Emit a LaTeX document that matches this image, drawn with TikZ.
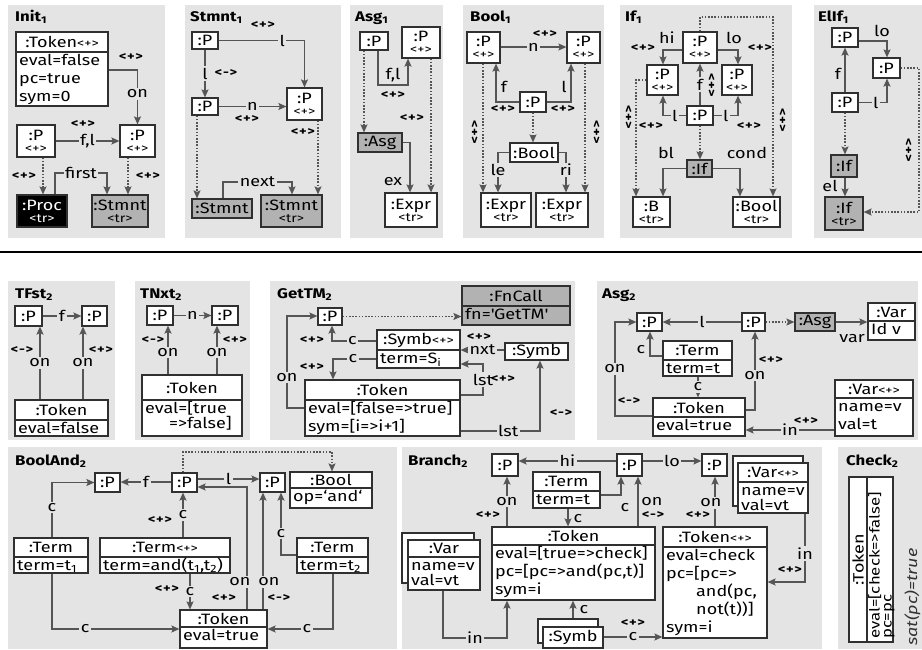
\documentclass[tikz,border=0pt]{standalone}
\usepackage{fontspec}
\setmainfont{Fira Sans}[FakeStretch=1.2]
\usetikzlibrary{arrows.meta,fit}
\definecolor{pbg}{HTML}{E4E4E4}
\definecolor{edg}{HTML}{555555}
\definecolor{bord}{HTML}{303030}
\definecolor{gnode}{HTML}{B2B2B2}
\newcommand\nf{\fontsize{15}{18}\selectfont}
\newcommand\stt[1]{{\fontsize{12}{12}\selectfont #1}}
\newcommand\pls{<\kern0.6pt+\kern0.6pt>}
\newcommand\mns{<\kern0.6pt-\kern0.6pt>}
\newcommand\cbox[9]{%
  \node[#7,fit={(#2,#3)(#4,#5)}] (#1) {};
  \draw[bline] (#2,#6) -- (#4,#6);
  \node[font=\nf,inner sep=0pt] at ({(#2+#4)/2},{(#3+#6)/2}) {#8};
  \node[font=\nf,inner sep=0pt,anchor=north west,align=left] at ({#2+3},#6) {\rule{0pt}{13.5pt}#9};
}
\newcommand\pbox[7]{\node[#6,minimum width={#4-#2},minimum height={#5-#3},align=center,font=\nf] (#1) at ({(#2+#4)/2},{(#3+#5)/2}) {#7};}
\tikzset{
  box/.style={draw=bord,line width=1.2pt,fill=white,inner sep=0pt},
  gbox/.style={box,fill=gnode},
  bbox/.style={box,fill=black,text=white},
  bline/.style={draw=bord,line width=1.2pt},
  arr/.style={draw=edg,line width=1.4pt,-{Stealth[length=8pt,width=7pt,inset=1.5pt]}},
  darr/.style={arr,dash pattern=on 1.6pt off 1.6pt},
  elab/.style={fill=pbg,inner sep=1.5pt,font=\nf},
  plab/.style={inner sep=1pt,font=\nf},
  ster/.style={inner sep=0pt,font=\bfseries\fontsize{12}{13}\selectfont},
  vster/.style={ster,rotate=-90},
  ttl/.style={anchor=base west,inner sep=0pt,font=\bfseries\fontsize{14}{16}\selectfont},
}
\begin{document}
\begin{tikzpicture}[x=1pt,y=-1pt]
\useasboundingbox (0,0) rectangle (922,649);
\fill[white] (0,0) rectangle (922,649);
% panels
\fill[pbg] (8,5) rectangle (165,238);
\fill[pbg] (185,5) rectangle (341,238);
\fill[pbg] (350,5) rectangle (443,238);
\fill[pbg] (463,5) rectangle (604,238);
\fill[pbg] (620,5) rectangle (792,238);
\fill[pbg] (814,5) rectangle (922,238);
\draw[line width=1.5pt] (0,252) -- (922,252);
\fill[pbg] (8,281) rectangle (115,440);
\fill[pbg] (135,281) rectangle (250,440);
\fill[pbg] (270,281) rectangle (575,440);
\fill[pbg] (597,281) rectangle (918,440);
\fill[pbg] (8,447) rectangle (397,649);
\fill[pbg] (402,447) rectangle (822,649);
\fill[pbg] (838,447) rectangle (922,649);

% ---------- Init1
\node[ttl] (ti1) at (15,21) {Init\textsubscript{1}};
\cbox{itok}{16}{32}{108}{106}{52}{box}{:Token\stt{<+>}}{eval=false\\pc=true\\sym=0}
\pbox{ip1}{17}{125}{55}{157}{box}{:P\\[-6pt]\stt{<+>}}
\pbox{ip2}{120}{125}{155}{157}{box}{:P\\[-6pt]\stt{<+>}}
\pbox{iproc}{17}{195}{67}{227}{bbox}{:Proc\\[-6pt]\stt{<tr>}}
\pbox{istm}{92}{195}{148}{227}{gbox}{:Stmnt\\[-6pt]\stt{<tr>}}
\draw[arr] (itok.east |- 0,70) -| node[elab,pos=0.72]{on} (ip2.north);
\node[ster] at (131,57) {\pls};
\draw[arr] (ip1) -- node[elab]{f,l} (ip2);
\node[ster] at (83,124) {\pls};
\draw[darr] (ip1.south -| 43,0) -- (iproc.north -| 43,0);
\draw[darr] (ip2.south -| 128,0) -- (istm.north -| 128,0);
\node[ster] at (24,176) {\pls};
\node[ster] at (148,176) {\pls};
\draw[arr] (iproc.north -| 55,0) -- (55,173) -- node[elab]{first} (107,173) -- (istm.north -| 107,0);

% ---------- Stmnt1
\node[ttl] (ti2) at (190,21) {Stmnt\textsubscript{1}};
\pbox{sp1}{192}{32}{218}{49}{box}{:P}
\pbox{sp2}{192}{98}{218}{115}{box}{:P}
\pbox{sp3}{287}{88}{322}{120}{box}{:P\\[-6pt]\stt{<+>}}
\pbox{ss1}{192}{199}{252}{218}{gbox}{:Stmnt}
\pbox{ss2}{261}{195}{322}{227}{gbox}{:Stmnt\\[-6pt]\stt{<tr>}}
\draw[arr] (sp1.east) -| node[elab,pos=0.37]{l} (sp3.north);
\node[ster] at (263,25) {\pls};
\draw[arr] (sp1) -- node[elab]{l} (sp2);
\node[ster] at (226,73) {\mns};
\draw[arr] (sp2) -- node[elab]{n} (sp3.west |- sp2.east);
\node[ster] at (247,119) {\pls};
\draw[darr] (sp2.south -| 197,0) -- (ss1.north -| 197,0);
\draw[darr] (sp3.south -| 318,0) -- (ss2.north -| 318,0);
\node[ster] at (303,132) {\pls};
\draw[arr] (ss1.north -| 223,0) -- (223,182) -- node[elab]{next} (292,182) -- (ss2.north -| 292,0);

% ---------- Asg1
\node[ttl] (ti3) at (355,21) {Asg\textsubscript{1}};
\pbox{ap1}{360}{32}{388}{50}{box}{:P}
\pbox{ap2}{402}{27}{440}{58}{box}{:P\\[-6pt]\stt{<+>}}
\pbox{aasg}{358}{133}{402}{152}{gbox}{:Asg}
\pbox{aex}{385}{193}{437}{227}{box}{:Expr\\[-6pt]\stt{<tr>}}
\draw[arr] (ap1.south -| 378,0) -- (378,85) -- (408,85) -- (ap2.south -| 408,0);
\node[plab] at (393,75) {f,l};
\node[ster] at (393,95) {\pls};
\draw[darr] (ap1.south -| 364,0) -- (aasg.north -| 364,0);
\draw[darr] (ap2.south -| 431,0) -- (aex.north -| 431,0);
\node[ster] at (412,118) {\pls};
\draw[arr] (aasg.east) -| (aex.north -| 410,0);
\node[plab] at (393,182) {ex};

% ---------- Bool1
\node[ttl] (ti4) at (470,21) {Bool\textsubscript{1}};
\pbox{bp1}{467}{32}{500}{63}{box}{:P\\[-6pt]\stt{<+>}}
\pbox{bp2}{567}{32}{600}{63}{box}{:P\\[-6pt]\stt{<+>}}
\pbox{bp3}{520}{92}{546}{112}{box}{:P}
\pbox{bbo}{510}{143}{558}{162}{box}{:Bool}
\pbox{be1}{481}{193}{531}{227}{box}{:Expr\\[-6pt]\stt{<tr>}}
\pbox{be2}{536}{193}{588}{227}{box}{:Expr\\[-6pt]\stt{<tr>}}
\draw[arr] (bp1.east |- 0,47) -- node[elab]{n} (bp2.west |- 0,47);
\node[ster] at (545,34) {\pls};
\draw[arr] (bp3.west) -| (bp1.south -| 496,0);
\node[plab] at (504,87) {f};
\node[ster] at (503,109) {\pls};
\draw[arr] (bp3.east) -| (bp2.south -| 571,0);
\node[plab] at (564,87) {l};
\node[ster] at (563,109) {\pls};
\draw[darr] (bp3.south) -- (bbo.north -| bp3.south);
\draw[darr] (bp1.south -| 483,0) -- (be1.north -| 483,0);
\draw[darr] (bp2.south -| 585,0) -- (be2.north -| 585,0);
\node[vster] at (474,132) {\pls};
\node[vster] at (596,132) {\pls};
\draw[arr] (bbo.west) -| node[elab,pos=0.72]{le} (be1.north -| 498,0);
\draw[arr] (bbo.east) -| node[elab,pos=0.72]{ri} (be2.north -| 566,0);

% ---------- If1
\node[ttl] (ti5) at (625,21) {If\textsubscript{1}};
\pbox{fpT}{683}{32}{717}{63}{box}{:P\\[-6pt]\stt{<+>}}
\pbox{fpL}{647}{65}{678}{95}{box}{:P\\[-6pt]\stt{<+>}}
\pbox{fpR}{722}{65}{752}{95}{box}{:P\\[-6pt]\stt{<+>}}
\pbox{fpM}{687}{106}{713}{125}{box}{:P}
\pbox{fif}{687}{160}{712}{177}{gbox}{:If}
\pbox{fB}{633}{197}{670}{227}{box}{:B\\[-6pt]\stt{<tr>}}
\pbox{fbo}{733}{197}{780}{227}{box}{:Bool\\[-6pt]\stt{<tr>}}
\draw[arr] (fpT.west |- 0,50) -| (fpL.north -| 663,0);
\node[plab] at (667,38) {hi};
\node[ster] at (643,48) {\pls};
\draw[arr] (fpT.east |- 0,50) -| (fpR.north -| 738,0);
\node[plab] at (734,38) {lo};
\node[ster] at (760,48) {\pls};
\draw[arr] (fpM) -- node[elab]{f} (fpT);
\node[vster] at (711,85) {\pls};
\draw[arr] (fpM.west) -| node[elab,pos=0.25]{l} (fpL.south -| 663,0);
\node[ster] at (651,126) {\pls};
\draw[arr] (fpM.east) -| node[elab,pos=0.25]{l} (fpR.south -| 738,0);
\node[ster] at (749,126) {\pls};
\draw[darr] (fpM.south) -- (fif.north -| fpM.south);
\draw[arr] (fif.west) -| (fB.north -| 663,0);
\node[plab] at (666,153) {bl};
\draw[arr] (fif.east) -| (fbo.north -| 740,0);
\node[plab] at (747,153) {cond};
\draw[darr] (fpL.west) -| (fB.north -| 636,0);
\node[vster] at (628,117) {\pls};
\draw[darr] (fpT.north) -- (fpT.north |- 0,17) -- (773,17) -- (fbo.north -| 773,0);
\node[vster] at (782,120) {\pls};

% ---------- ElIf1
\node[ttl] (ti6) at (818,21) {ElIf\textsubscript{1}};
\pbox{ep1}{832}{28}{858}{47}{box}{:P}
\pbox{ep2}{873}{58}{900}{78}{box}{:P}
\pbox{ep3}{832}{93}{858}{112}{box}{:P}
\pbox{ei1}{831}{155}{857}{177}{gbox}{:If}
\pbox{ei2}{825}{197}{863}{230}{gbox}{:If\\[-6pt]\stt{<tr>}}
\draw[arr] (ep1.east |- 0,41) -| (ep2.north -| 887,0);
\node[plab] at (882,31) {lo};
\draw[arr] (ep3) -- (ep1);
\node[plab] at (838,74) {f};
\draw[arr] (ep3.east) -| node[elab,pos=0.3]{l} (ep2.south -| 887,0);
\draw[darr] (ep3.south) -- (ei1.north -| ep3.south);
\draw[arr] (ei1.south -| ep3.south) -- (ei2.north -| ep3.south);
\node[plab] at (830,186) {el};
\draw[darr] (ep2.east) -- (919,68) -- (919,212) -- (ei2.east |- 0,212);
\node[vster] at (908,150) {\pls};

% ---------- TFst2
\node[ttl] (tt1) at (15,298) {TFst\textsubscript{2}};
\pbox{ta}{15}{306}{42}{326}{box}{:P}
\pbox{tb}{82}{306}{107}{326}{box}{:P}
\draw[arr] (ta) -- node[elab]{f} (tb);
\cbox{ttk}{15}{400}{108}{436}{420}{box}{:Token}{eval=false}
\draw[arr] (ttk.north -| 40,0) -- node[elab]{on} (ta.south -| 40,0);
\node[ster] at (22,350) {\mns};
\draw[arr] (ttk.north -| 83,0) -- node[elab]{on} (tb.south -| 83,0);
\node[ster] at (101,350) {\pls};

% ---------- TNxt2
\node[ttl] (tt2) at (140,298) {TNxt\textsubscript{2}};
\pbox{na}{147}{306}{173}{325}{box}{:P}
\pbox{nb}{212}{306}{238}{325}{box}{:P}
\draw[arr] (na) -- node[elab]{n} (nb);
\cbox{ntk}{142}{375}{242}{436}{400}{box}{:Token}{eval=[true\\[-3pt]\hspace*{24pt}=>false]}
\draw[arr] (ntk.north -| 168,0) -- node[elab,pos=0.45]{on} (na.south -| 168,0);
\node[ster] at (153,340) {\mns};
\draw[arr] (ntk.north -| 217,0) -- node[elab,pos=0.45]{on} (nb.south -| 217,0);
\node[ster] at (235,340) {\pls};

% ---------- GetTM2
\node[ttl] (tt3) at (277,298) {GetTM\textsubscript{2}};
\pbox{gp}{318}{308}{342}{325}{box}{:P}
\cbox{gfn}{462}{286}{570}{325}{306}{gbox}{:FnCall}{fn=\textquotesingle GetTM\textquotesingle}
\draw[darr] (gp.east) -- (gfn.west |- gp.east);
\cbox{gsy}{377}{330}{460}{368}{350}{box}{:Symb\stt{<+>}}{term=S\textsubscript{i}}
\pbox{gsy2}{505}{343}{568}{360}{box}{:Symb}
\cbox{gtk}{305}{380}{460}{436}{400}{box}{:Token}{eval=[false=>true]\\sym=[i=>i+1]}
\draw[arr] (gsy.west |- 0,341) -| node[elab,pos=0.27]{c} (gp.south -| 332,0);
\node[ster] at (312,340) {\pls};
\draw[arr] (gsy.west |- 0,359) -| node[elab,pos=0.27]{c} (gtk.north -| 333,0);
\node[ster] at (312,367) {\pls};
\draw[arr] (gsy2.west |- 0,350) -- node[elab]{nxt} (gsy.east |- 0,350);
\node[ster] at (479,337) {\pls};
\draw[arr] (gtk.east |- 0,395) -- (483,395) -- node[elab]{lst} (483,364) -- (gsy.east |- 0,364);
\node[ster] at (503,379) {\pls};
\draw[arr] (gtk.east |- 0,431) -- node[elab,pos=0.6]{lst} (540,431) -- (gsy2.south -| 540,0);
\node[ster] at (561,413) {\mns};
\draw[arr] (gtk.west |- 0,408) -- (287,408) -- node[elab,pos=0.33]{on} (287,316) -- (gp.west |- 0,316);

% ---------- Asg2
\node[ttl] (tt4) at (602,298) {Asg\textsubscript{2}};
\pbox{xpL}{637}{313}{662}{331}{box}{:P}
\pbox{xpM}{742}{313}{765}{331}{box}{:P}
\pbox{xas}{795}{313}{835}{331}{gbox}{:Asg}
\cbox{xva}{868}{303}{915}{340}{321}{box}{:Var}{Id v}
\draw[arr] (xpM) -- node[elab]{l} (xpL);
\draw[darr] (xpM) -- (xas);
\draw[arr] (xas) -- (xva.west |- xas.east);
\node[plab,anchor=east] at (866,339) {var};
\cbox{xte}{663}{341}{732}{376}{360}{box}{:Term}{term=t}
\cbox{xtk}{653}{398}{745}{436}{417}{box}{:Token}{eval=true}
\cbox{xv2}{835}{380}{913}{436}{398}{box}{:Var\stt{<+>}}{name=v\\val=t}
\draw[arr] (xte.west |- 0,356) -| (xpL.south -| 650,0);
\node[plab] at (641,350) {c};
\draw[arr] (xte.south -| 698,0) -- node[elab]{c} (xtk.north -| 698,0);
\draw[arr] (xtk.east |- 0,410) -| node[elab,pos=0.72]{on} (xpM.south -| 755,0);
\node[ster] at (771,360) {\pls};
\draw[arr] (xtk.west |- 0,416) -- (615,416) -- node[elab]{on} (615,322) -- (xpL.west |- 0,322);
\node[ster] at (629,401) {\mns};
\draw[arr] (xv2.west |- 0,430) -- node[elab]{in} (xtk.east |- 0,430);
\node[ster] at (806,421) {\pls};

% ---------- BoolAnd2
\node[ttl] (tt5) at (15,465) {BoolAnd\textsubscript{2}};
\pbox{opL}{95}{473}{120}{492}{box}{:P}
\pbox{opM}{172}{473}{197}{492}{box}{:P}
\pbox{opR}{260}{473}{285}{492}{box}{:P}
\cbox{obo}{290}{472}{372}{508}{488}{box}{:Bool}{op=‘and‘}
\draw[arr] (opM.west |- 0,482) -- node[elab]{f} (opL.east |- 0,482);
\draw[arr] (opM.east |- 0,479) -- node[elab]{l} (opR.west |- 0,479);
\draw[darr] (opM.north -| 183,0) -- (183,452) -- (332,452) -- (obo.north -| 332,0);
\cbox{ot1}{14}{538}{88}{573}{557}{box}{:Term}{term=t\textsubscript{1}}
\cbox{otp}{100}{538}{230}{573}{557}{box}{:Term\stt{<+>}}{term=and(t\textsubscript{1},t\textsubscript{2})}
\cbox{ot2}{297}{538}{368}{573}{557}{box}{:Term}{term=t\textsubscript{2}}
\cbox{otk}{180}{610}{267}{648}{627}{box}{:Token}{eval=true}
\draw[arr] (ot1.north -| 52,0) |- node[elab,pos=0.27]{c} (opL.west);
\draw[arr] (ot1.south -| 52,0) |- node[elab,pos=0.63]{c} (otk.west);
\draw[arr] (otp.north -| 183,0) -- node[elab]{c} (opM.south -| 183,0);
\node[ster] at (160,520) {\pls};
\draw[arr] (otp.south -| 190,0) -- node[elab]{c} (otk.north -| 190,0);
\node[ster] at (167,589) {\pls};
\draw[arr] (otk.north -| 247,0) |- (opM.east |- 0,487);
\draw[arr] (otk.north -| 263,0) -- (opR.south -| 263,0);
\node[elab] at (240,582) {on};
\node[elab] at (269,582) {on};
\node[ster] at (224,598) {\pls};
\node[ster] at (279,598) {\mns};
\draw[arr] (ot2.west |- 0,555) -| node[elab,pos=0.67]{c} (opR.south -| 281,0);
\draw[arr] (ot2.south -| 333,0) |- node[elab,pos=0.7]{c} (otk.east);

% ---------- Branch2
\node[ttl] (tt6) at (408,465) {Branch\textsubscript{2}};
\pbox{rpL}{492}{454}{518}{476}{box}{:P}
\pbox{rpM}{617}{454}{642}{476}{box}{:P}
\pbox{rpR}{702}{454}{727}{476}{box}{:P}
\draw[arr] (rpM.west |- 0,461) -- node[elab]{hi} (rpL.east |- 0,461);
\draw[arr] (rpM.east |- 0,461) -- node[elab]{lo} (rpR.west |- 0,461);
\cbox{rte}{533}{472}{600}{508}{491}{box}{:Term}{term=t}
\node[box,fit={(733,456)(803,506)}] (rvpb) {};
\cbox{rvp}{738}{463}{808}{513}{482}{box}{:Var\stt{<+>}}{name=v\\[-3pt]val=vt}
\node[box,fit={(402,533)(474,583)}] (rvvb) {};
\cbox{rvv}{408}{540}{480}{590}{557}{box}{:Var}{name=v\\[-3pt]val=vt}
\cbox{rtk}{492}{527}{655}{600}{545}{box}{:Token}{eval=[true=>check]\\pc=[pc=>and(pc,t)]\\sym=i}
\cbox{rtp}{663}{527}{767}{638}{547}{box}{:Token\stt{<+>}}{eval=check\\pc=[pc=>\\\hspace*{30pt}and(pc,\\\hspace*{30pt}not(t))]\\sym=i}
\node[box,fit={(538,619)(598,643)}] (rsb) {};
\pbox{rsy}{543}{627}{603}{648}{box}{:Symb}
\draw[arr] (rtk.north -| 507,0) -- node[elab]{on} (rpL.south -| 507,0);
\node[ster] at (488,515) {\pls};
\draw[arr] (rte.east |- 0,495) -| (rpM.south -| 621,0);
\node[plab] at (625,508) {c};
\draw[arr] (rte.south -| 568,0) -- (rtk.north -| 568,0);
\node[plab] at (578,519) {c};
\draw[arr] (rtk.north -| 638,0) -- (rpM.south -| 638,0);
\node[plab] at (652,502) {on};
\node[ster] at (653,515) {\mns};
\draw[arr] (rtp.north -| 715,0) -- (rpR.south -| 715,0);
\node[elab] at (711,503) {on};
\node[ster] at (698,515) {\pls};
\draw[arr] (rvp.south -| 805,0) |- node[elab,pos=0.29]{in} (rtp.east |- 0,582);
\node[ster] at (790,570) {\pls};
\draw[arr] (rvv.south -| 443,0) -- (443,638) -- node[elab]{in} (507,638) -- (rtk.south -| 507,0);
\draw[arr] (rsb.north -| 573,0) -- (rtk.south -| 573,0);
\node[plab] at (584,610) {c};
\draw[arr] (rsy.east |- 0,637) -- node[elab]{c} (rtp.west |- 0,637);
\node[ster] at (633,623) {\pls};

% ---------- Check2
\node[ttl] (tt7) at (846,465) {Check\textsubscript{2}};
\node[box,fit={(849,477)(893,642)}] (ctk) {};
\draw[bline] (867,477) -- (867,642);
\node[rotate=90,font=\nf,inner sep=0pt] (ctkh) at (858,560) {:Token};
\node[rotate=90,anchor=north west,align=left,inner sep=1pt,font=\fontsize{14}{12}\selectfont] (ctka) at (867,640) {eval=[check=>false]\\pc=pc};
\node[rotate=90,anchor=base west,inner sep=0pt,font=\itshape\fontsize{15}{15}\selectfont,text=black!80] (csat) at (917,646) {sat(pc)=true};
\end{tikzpicture}
\end{document}
